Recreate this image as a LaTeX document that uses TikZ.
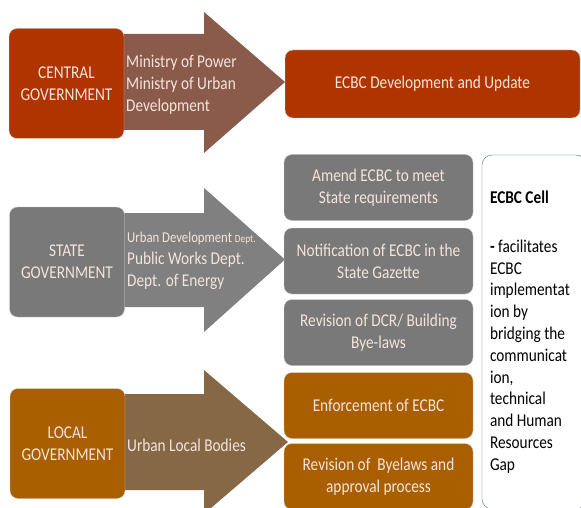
\documentclass[tikz,border=0pt]{standalone}
\usepackage{fontspec}
\setmainfont[FakeStretch=0.85]{Carlito}
\usetikzlibrary{positioning,backgrounds}

\definecolor{centralred}{RGB}{176,52,0}
\definecolor{centralarrow}{RGB}{138,90,74}
\definecolor{stategray}{RGB}{121,121,121}
\definecolor{statearrow}{RGB}{128,128,128}
\definecolor{localochre}{RGB}{169,94,0}
\definecolor{localarrow}{RGB}{134,104,70}
\definecolor{paletext}{RGB}{245,228,220}
\definecolor{cellframe}{RGB}{84,104,128}

\begin{document}
\begin{tikzpicture}[
    x=1pt, y=-1pt,
    box/.style={rectangle, rounded corners=8pt, draw=white!80!black, thin, text=paletext, align=center, font=\fontsize{18}{22}\selectfont, inner sep=2pt},
    gov/.style={box, minimum width=115pt, minimum height=110pt},
    task/.style={box, minimum width=189pt, minimum height=66pt},
    via/.style={anchor=west, align=left, text=paletext, font=\fontsize{18}{22}\selectfont, inner sep=0pt}
]
    \useasboundingbox (0,0) rectangle (581,508);
    \clip (0,0) rectangle (581,508);

    % government levels
    \node[gov, fill=centralred] (central) at (66.5,83.5) {CENTRAL\\GOVERNMENT};
    \node[gov, fill=stategray] (state) at (67,262) {STATE\\GOVERNMENT};
    \node[gov, fill=localochre] (local) at (67.5,443.5) {LOCAL\\GOVERNMENT};

    % responsibilities
    \node[box, fill=centralred, minimum width=295pt, minimum height=68pt] (update) at (432.5,84) {ECBC Development and Update};
    \node[task, fill=stategray] (amend) at (378.5,187.5) {Amend ECBC to meet\\State requirements};
    \node[task, fill=stategray] (notify) at (378.5,261) {Notification of ECBC in the\\State Gazette};
    \node[task, fill=stategray] (dcr) at (378.5,332.5) {Revision of DCR/ Building\\Bye-laws};
    \node[task, fill=localochre] (enforce) at (378.5,405.5) {Enforcement of ECBC};
    \node[task, fill=localochre] (byelaws) at (378.5,476.5) {Revision of~ Byelaws and\\approval process};

    % ecbc cell
    \node[rectangle, rounded corners=10pt, draw=cellframe, fill=white, minimum width=104pt, minimum height=354pt, text width=88pt, align=flush left, inner sep=0pt, font=\fontsize{18}{21.8}\selectfont] (cell) at (534,332)
        {\textbf{ECBC Cell}\\[27pt]\textbf{-} facilitates\\ECBC\\implementat\\ion by\\bridging the\\communicat\\ion,\\technical\\and Human\\Resources\\Gap};

    % block arrows
    \begin{scope}[on background layer]
        \fill[centralarrow] (central.center |- 0,34) -- (204,34) -- (204,12) -- (285,82) -- (204,153) -- (204,130) -- (central.center |- 0,130) -- cycle;
        \fill[statearrow] (state.center |- 0,213) -- (204,213) -- (204,188) -- (285,259.5) -- (204,332) -- (204,307) -- (state.center |- 0,307) -- cycle;
        \fill[localarrow] (local.center |- 0,394) -- (204,394) -- (204,370) -- (288,442) -- (204,514) -- (204,490) -- (local.center |- 0,490) -- cycle;
    \end{scope}

    \node[via] (centralvia) at (126,85) {Ministry of Power\\Ministry of Urban\\Development};
    \node[via] (statevia) at (127,261) {{\fontsize{15}{22}\selectfont Urban Development {\fontsize{11}{22}\selectfont Dept.}}\\Public Works Dept.\\Dept. of Energy};
    \node[via] (localvia) at (127,445) {Urban Local Bodies};
\end{tikzpicture}
\end{document}
